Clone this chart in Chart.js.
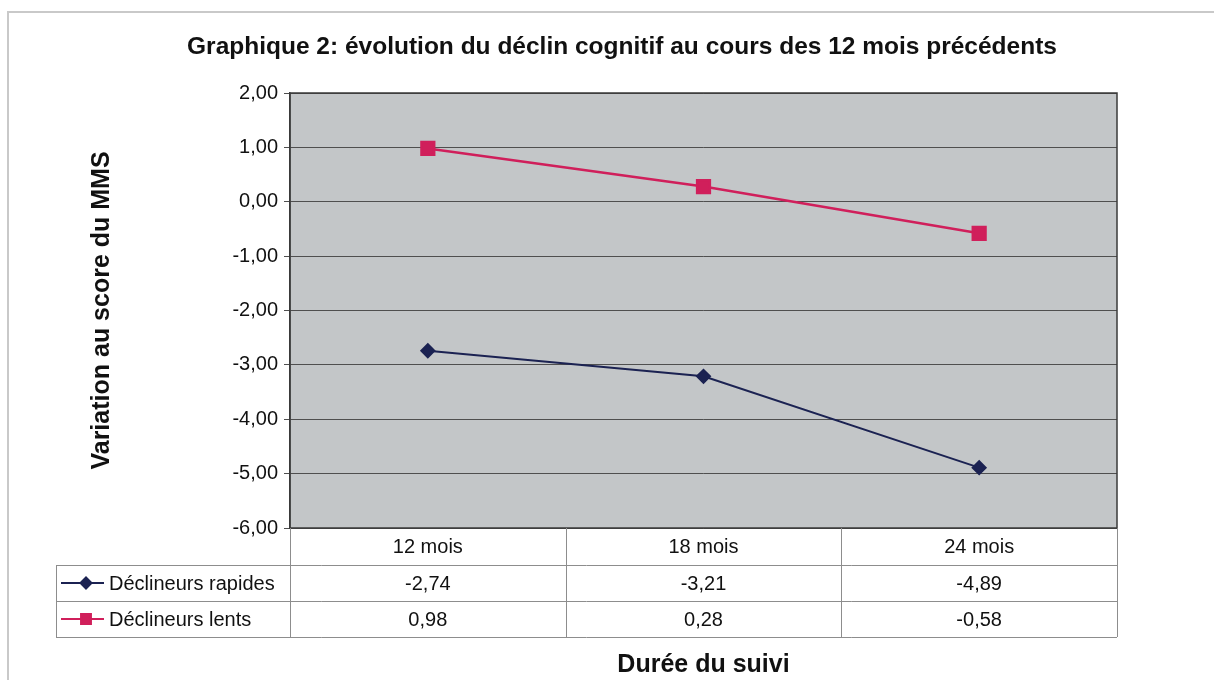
<!DOCTYPE html>
<html>
<head>
<meta charset="utf-8">
<script src="https://cdn.jsdelivr.net/npm/chart.js@4"></script>
<style>
  html, body { margin: 0; padding: 0; background: #fff; }
  #wrap { width: 1214px; height: 680px; }
</style>
</head>
<body>
<div id="wrap"><canvas id="mmsChart" width="1214" height="680"></canvas></div>
<script>
// Data
const periods = ['12 mois', '18 mois', '24 mois'];
const seriesNames = ['Déclineurs rapides', 'Déclineurs lents'];
const rapides = [-2.74, -3.21, -4.89];
const lents = [0.98, 0.28, -0.58];
const yTicks = [2, 1, 0, -1, -2, -3, -4, -5, -6];

const FONT = '"Liberation Sans", Arial, Helvetica, sans-serif';
const navy = '#1b2252';
const crimson = '#d01f5b';

function frNum(v) {
    return v.toFixed(2).replace('.', ',');
}

// Page frame, plot background
const backdrop = {
    id: 'backdrop',
    beforeDraw(chart) {
        const ctx = chart.ctx;
        const a = chart.chartArea;
        ctx.save();
        ctx.fillStyle = '#ffffff';
        ctx.fillRect(0, 0, chart.width, chart.height);
        ctx.strokeStyle = '#c9c9c9';
        ctx.lineWidth = 2;
        ctx.beginPath();
        ctx.moveTo(8, chart.height);
        ctx.lineTo(8, 12);
        ctx.lineTo(chart.width, 12);
        ctx.stroke();
        ctx.fillStyle = '#c3c6c8';
        ctx.fillRect(a.left, a.top, a.right - a.left, a.bottom - a.top);
        ctx.restore();
    }
};

// Title, plot border and data table under the plot
const dataTable = {
    id: 'dataTable',
    afterDraw(chart) {
        const ctx = chart.ctx;
        const a = chart.chartArea;
        const x = chart.scales.x;
        ctx.save();

        // title
        ctx.fillStyle = '#111';
        ctx.font = 'bold 24.5px ' + FONT;
        ctx.textAlign = 'center';
        ctx.textBaseline = 'middle';
        ctx.fillText('Graphique 2: évolution du déclin cognitif au cours des 12 mois précédents', 622, 47);

        // plot border
        ctx.strokeStyle = '#3a3a3a';
        ctx.lineWidth = 1.5;
        ctx.strokeRect(a.left, a.top, a.right - a.left, a.bottom - a.top);

        // table grid
        const tableLeft = 56;
        const rowH = 36;
        const headBottom = a.bottom + 37;
        const tableBottom = headBottom + rowH * 2;
        const cols = [a.left];
        for (let i = 0; i < periods.length - 1; i++) {
            cols.push((x.getPixelForValue(i) + x.getPixelForValue(i + 1)) / 2);
        }
        cols.push(a.right);

        ctx.strokeStyle = '#8d8d8d';
        ctx.lineWidth = 1;
        ctx.beginPath();
        for (let r = 0; r <= 2; r++) {
            const y = Math.round(headBottom + r * rowH) + 0.5;
            ctx.moveTo(tableLeft, y);
            ctx.lineTo(a.right, y);
        }
        ctx.moveTo(tableLeft + 0.5, headBottom);
        ctx.lineTo(tableLeft + 0.5, tableBottom);
        cols.forEach(cx => {
            const px = Math.round(cx) + 0.5;
            ctx.moveTo(px, a.bottom);
            ctx.lineTo(px, tableBottom);
        });
        ctx.stroke();

        // rows: legend key, name, values
        chart.data.datasets.forEach((ds, d) => {
            const cy = headBottom + rowH * d + rowH / 2;
            ctx.strokeStyle = ds.borderColor;
            ctx.lineWidth = 2;
            ctx.beginPath();
            ctx.moveTo(61, cy);
            ctx.lineTo(104, cy);
            ctx.stroke();
            ctx.fillStyle = ds.pointBackgroundColor;
            Chart.helpers.drawPoint(ctx, {
                pointStyle: ds.pointStyle,
                radius: ds.pointStyle === 'rect' ? 7 : 5.5,
                borderWidth: 1
            }, 86, cy);

            ctx.fillStyle = '#111';
            ctx.font = '20px ' + FONT;
            ctx.textAlign = 'left';
            ctx.textBaseline = 'middle';
            ctx.fillText(ds.label, 109, cy + 1);

            ctx.textAlign = 'center';
            ds.data.forEach((v, i) => {
                ctx.fillText(frNum(v), x.getPixelForValue(i), cy + 1);
            });
        });
        ctx.restore();
    }
};

const ctx = document.getElementById('mmsChart').getContext('2d');
new Chart(ctx, {
    type: 'line',
    data: {
        labels: periods,
        datasets: [
            {
                label: seriesNames[0],
                data: rapides,
                borderColor: navy,
                backgroundColor: navy,
                pointBackgroundColor: navy,
                pointBorderColor: navy,
                borderWidth: 2,
                pointStyle: 'rectRot',
                pointRadius: 6.5,
                tension: 0
            },
            {
                label: seriesNames[1],
                data: lents,
                borderColor: crimson,
                backgroundColor: crimson,
                pointBackgroundColor: crimson,
                pointBorderColor: crimson,
                borderWidth: 2.5,
                pointStyle: 'rect',
                pointRadius: 9,
                tension: 0
            }
        ]
    },
    options: {
        responsive: false,
        animation: false,
        devicePixelRatio: 1,
        layout: {
            padding: { left: 80, right: 97, top: 93, bottom: 0 }
        },
        plugins: {
            legend: { display: false },
            title: { display: false },
            tooltip: { enabled: false }
        },
        scales: {
            x: {
                type: 'category',
                offset: true,
                grid: { display: false, drawTicks: false },
                border: { display: false },
                ticks: {
                    color: '#111',
                    font: { family: FONT, size: 20 },
                    padding: 7,
                    maxRotation: 0
                },
                title: {
                    display: true,
                    text: 'Durée du suivi',
                    color: '#111',
                    font: { family: FONT, size: 25, weight: 'bold' },
                    padding: { top: 0, bottom: 0 }
                },
                afterFit(scale) {
                    scale.height = 152;
                }
            },
            y: {
                min: -6,
                max: 2,
                afterBuildTicks(scale) {
                    scale.ticks = yTicks.map(v => ({ value: v }));
                },
                grid: {
                    color: '#4f4f4f',
                    lineWidth: 1,
                    drawTicks: true,
                    tickLength: 6
                },
                border: { display: true, color: '#3a3a3a', width: 1.5 },
                ticks: {
                    color: '#111',
                    font: { family: FONT, size: 20 },
                    padding: 6,
                    callback: v => frNum(v)
                },
                title: {
                    display: true,
                    text: 'Variation au score du MMS',
                    color: '#111',
                    font: { family: FONT, size: 25, weight: 'bold' },
                    padding: { top: 7, bottom: 0 }
                },
                afterFit(scale) {
                    scale.width = 210;
                }
            }
        }
    },
    plugins: [backdrop, dataTable]
});
</script>
</body>
</html>
